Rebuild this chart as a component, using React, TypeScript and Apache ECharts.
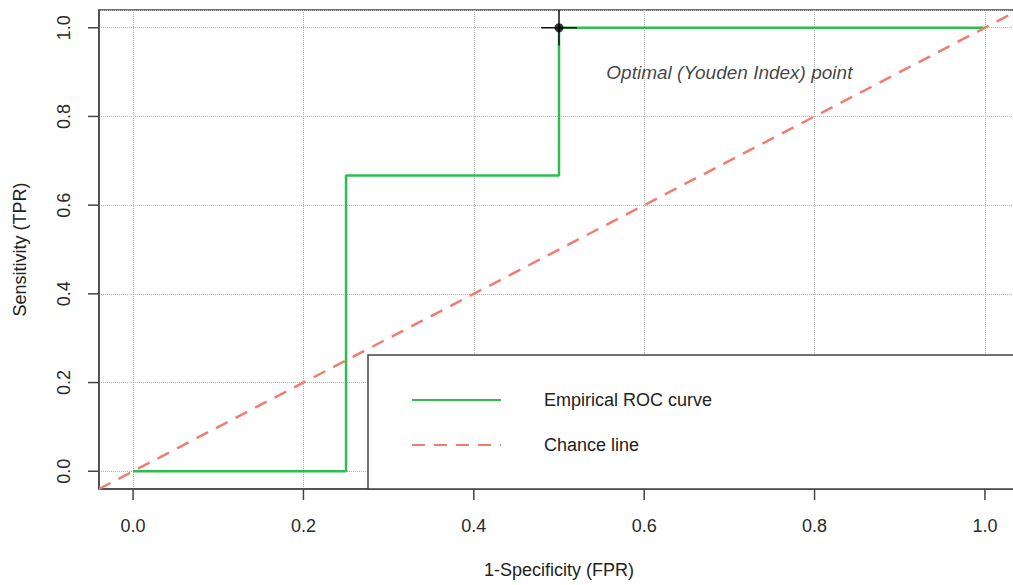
import React, { useEffect, useRef } from "react";
import * as echarts from "echarts";

// ROC curve (empirical)
const rocFPR = [0, 0.25, 0.25, 0.5, 0.5, 1.0];
const rocTPR = [0, 0, 0.6667, 0.6667, 1.0, 1.0];

// Chance line spans the whole plotting region
const chanceX = [-0.04, 1.04];
const chanceY = [-0.04, 1.04];

// Optimal (Youden) point and its crosshair
const optimalPoint = [0.5, 1.0];
const crossHalfX = 0.021;
const crossHalfY = 0.04;

// Annotation
const annotationText = "Optimal (Youden Index) point";
const annotationPos = [0.7, 0.9];

// Axes
const axisMin = -0.04;
const axisMax = 1.04;
const tickValues = [0, 0.2, 0.4, 0.6, 0.8, 1.0];

const seriesNames = ["Empirical ROC curve", "Chance line"];

const GREEN = "#2DBE4F";
const SALMON = "#EE7E72";
const FONT = "'Liberation Sans', Arial, Helvetica, sans-serif";
const TICK_LEN = 11;

export default function App() {
  const ref = useRef<HTMLDivElement>(null);

  useEffect(() => {
    if (!ref.current) return;
    const chart = echarts.init(ref.current, undefined, { renderer: "svg" });

    const makeAxis = (name: string, nameGap: number, labelExtra: object) => ({
      type: "value",
      min: axisMin,
      max: axisMax,
      name,
      nameGap,
      nameLocation: "middle",
      nameTextStyle: { color: "#222", fontSize: 18, fontFamily: FONT },
      axisLine: { show: true, onZero: false, lineStyle: { color: "#444", width: 1.5 } },
      axisTick: { show: false },
      axisLabel: {
        customValues: tickValues,
        formatter: (v: number) => v.toFixed(1),
        color: "#2a2a2a",
        fontSize: 18,
        fontFamily: FONT,
        ...labelExtra,
      },
      splitLine: {
        show: true,
        lineStyle: { color: "#b5b5b5", type: "dotted", width: 1 },
      },
    });

    const tickStyle = { stroke: "#444", lineWidth: 1.5 };

    chart.setOption({
      animation: false,
      backgroundColor: "#fff",
      textStyle: { fontFamily: FONT },
      grid: {
        left: 99,
        top: 10,
        right: 0,
        bottom: 96,
        show: true,
        borderColor: "#444",
        borderWidth: 1.5,
      },
      xAxis: makeAxis("1-Specificity (FPR)", 72, { margin: 28 }),
      yAxis: makeAxis("Sensitivity (TPR)", 70, { rotate: 90, margin: 26 }),
      legend: {
        data: seriesNames,
        orient: "vertical",
        left: 411,
        top: 391,
        padding: 0,
        itemWidth: 89,
        itemHeight: 18,
        itemGap: 27,
        z: 10,
        selectedMode: false,
        itemStyle: { opacity: 0 },
        textStyle: {
          color: "#222",
          fontSize: 18,
          fontFamily: FONT,
          padding: [0, 0, 0, 38],
        },
      },
      graphic: [
        {
          type: "rect",
          z: 5,
          shape: { x: 368, y: 355, width: 700, height: 134 },
          style: { fill: "#fff", stroke: "#444", lineWidth: 1.5 },
        },
      ],
      series: [
        {
          name: seriesNames[0],
          type: "line",
          symbol: "none",
          data: rocFPR.map((x, i) => [x, rocTPR[i]]),
          lineStyle: { color: GREEN, width: 2.5 },
          itemStyle: { color: GREEN },
          z: 2,
        },
        {
          name: seriesNames[1],
          type: "line",
          symbol: "none",
          data: chanceX.map((x, i) => [x, chanceY[i]]),
          lineStyle: { color: SALMON, width: 2.5, type: [13, 9] },
          itemStyle: { color: SALMON },
          z: 3,
        },
        {
          name: "crossH",
          type: "line",
          symbol: "none",
          data: [
            [optimalPoint[0] - crossHalfX, optimalPoint[1]],
            [optimalPoint[0] + crossHalfX, optimalPoint[1]],
          ],
          lineStyle: { color: "#111", width: 1.5 },
          z: 4,
        },
        {
          name: "crossV",
          type: "line",
          symbol: "none",
          data: [
            [optimalPoint[0], optimalPoint[1] - crossHalfY],
            [optimalPoint[0], optimalPoint[1] + crossHalfY],
          ],
          lineStyle: { color: "#111", width: 1.5 },
          z: 4,
        },
        {
          name: "optimal",
          type: "scatter",
          symbol: "circle",
          symbolSize: 9,
          data: [optimalPoint],
          itemStyle: { color: "#000" },
          z: 6,
        },
        {
          name: "annotation",
          type: "scatter",
          symbolSize: 0,
          data: [annotationPos],
          label: {
            show: true,
            position: "inside",
            formatter: () => annotationText,
            fontStyle: "italic",
            fontSize: 19,
            fontFamily: FONT,
            color: "#111",
          },
          z: 6,
        },
        {
          name: "xTicks",
          type: "custom",
          silent: true,
          clip: false,
          z: 7,
          data: tickValues.map((v) => [v, axisMin]),
          renderItem: (_p: any, api: any) => {
            const pt = api.coord([api.value(0), api.value(1)]);
            return {
              type: "line",
              shape: { x1: pt[0], y1: pt[1], x2: pt[0], y2: pt[1] + TICK_LEN },
              style: tickStyle,
            };
          },
        },
        {
          name: "yTicks",
          type: "custom",
          silent: true,
          clip: false,
          z: 7,
          data: tickValues.map((v) => [axisMin, v]),
          renderItem: (_p: any, api: any) => {
            const pt = api.coord([api.value(0), api.value(1)]);
            return {
              type: "line",
              shape: { x1: pt[0] - TICK_LEN, y1: pt[1], x2: pt[0], y2: pt[1] },
              style: tickStyle,
            };
          },
        },
      ],
    });

    return () => chart.dispose();
  }, []);

  return (
    <div
      style={{
        position: "fixed",
        left: 0,
        top: 0,
        width: 1013,
        height: 585,
        overflow: "hidden",
        background: "#fff",
      }}
    >
      <div ref={ref} style={{ width: 1019, height: 585 }} />
    </div>
  );
}
